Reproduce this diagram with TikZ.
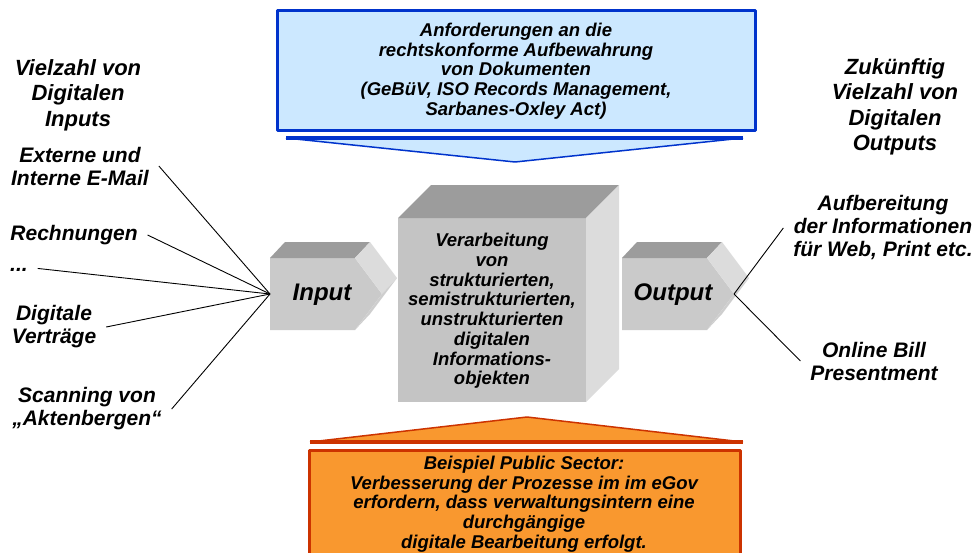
\documentclass[tikz,border=0pt]{standalone}
\usepackage{fontspec}
\setmainfont{Liberation Sans}
\definecolor{blueFill}{HTML}{CCE8FF}
\definecolor{blueLine}{HTML}{0033CC}
\definecolor{orangeFill}{HTML}{F9982F}
\definecolor{orangeLine}{HTML}{CC3300}
\definecolor{topGray}{HTML}{9C9C9C}
\definecolor{frontGray}{HTML}{C4C4C4}
\definecolor{sideGray}{HTML}{DCDCDC}
\begin{document}
\begin{tikzpicture}[x=1pt, y=-1pt, line join=round,
		head/.style={font=\bfseries\itshape\fontsize{22}{25.5}\selectfont, align=center, inner sep=0pt},
		lbl/.style={font=\bfseries\itshape\fontsize{21}{23}\selectfont, align=center, inner sep=0pt, outer xsep=10pt, outer ysep=0pt},
		boxtxt/.style={font=\bfseries\itshape\fontsize{18.5}{19.7}\selectfont, align=center, inner sep=0pt},
		blocktxt/.style={font=\bfseries\itshape\fontsize{24}{28}\selectfont, inner sep=0pt},
		wire/.style={line width=0.9pt}]
	\useasboundingbox (0,0) rectangle (980,552);
	% requirements box and arrow
	\draw[blueLine, line width=3pt, fill=blueFill] (277,10) rectangle (755,130);
	\node[boxtxt] (req) at (516,71) {Anforderungen an die\\rechtskonforme Aufbewahrung\\von Dokumenten\\(GeBüV, ISO Records Management,\\Sarbanes-Oxley Act)};
	\fill[blueFill] (286,138) -- (743,138) -- (515,162) -- cycle;
	\draw[blueLine, line width=1.5pt] (286,138) -- (515,162) -- (743,138);
	\draw[blueLine, line width=3.5pt] (286,138) -- (743,138);
	% public sector arrow and box
	\fill[orangeFill] (310,442) -- (527,417) -- (743,442) -- cycle;
	\draw[orangeLine, line width=1.5pt] (310,442) -- (527,417) -- (743,442);
	\draw[orangeLine, line width=3.5pt] (310,442) -- (743,442);
	\draw[orangeLine, line width=3pt, fill=orangeFill] (309,450) rectangle (740,558);
	\node[boxtxt] (pub) at (524,504) {Beispiel Public Sector:\\Verbesserung der Prozesse im im eGov\\erfordern, dass verwaltungsintern eine\\durchgängige\\digitale Bearbeitung erfolgt.};
	% processing cube
	\fill[frontGray] (398,218) rectangle (586,402);
	\fill[topGray] (398,218) -- (431,185) -- (619,185) -- (586,218) -- cycle;
	\fill[sideGray] (586,218) -- (619,185) -- (619,369) -- (586,402) -- cycle;
	\node[boxtxt] (proc) at (492,311) {Verarbeitung\\von\\strukturierten,\\semistrukturierten,\\unstrukturierten\\digitalen\\Informations-\\objekten};
	% input and output blocks
	\foreach \dx in {0,352} {
		\fill[frontGray!90!white] (270+\dx,258) -- (355+\dx,258) -- (382+\dx,294) -- (355+\dx,330) -- (270+\dx,330) -- cycle;
		\fill[topGray] (270+\dx,258) -- (285+\dx,242) -- (370+\dx,242) -- (355+\dx,258) -- cycle;
		\fill[sideGray] (355+\dx,258) -- (370+\dx,242) -- (397+\dx,278) -- (382+\dx,294) -- cycle;
		\fill[sideGray!85!gray] (382+\dx,294) -- (397+\dx,278) -- (370+\dx,314) -- (355+\dx,330) -- cycle;
	}
	\node[blocktxt] (in) at (322,295) {Input};
	\node[blocktxt] (out) at (673,295) {Output};
	\coordinate (inLeft) at (270,294);
	\coordinate (outTip) at (734,294);
	% inputs
	\node[head] (inHead) at (78,95) {Vielzahl von\\Digitalen\\Inputs};
	\node[lbl] (mail) at (80,166) {Externe und\\Interne E-Mail};
	\node[lbl] (bill) at (74,235) {Rechnungen};
	\node[lbl] (dots) at (19,270) {...};
	\node[lbl] (contract) at (54,327) {Digitale\\Verträge};
	\node[lbl] (scan) at (87,409) {Scanning von\\„Aktenbergen“};
	\foreach \src in {mail,bill,contract,scan}
		\draw[wire] (\src.east) -- (inLeft);
	\draw[wire] (dots.north east) -- (inLeft);
	% outputs
	\node[head] (outHead) at (895,107) {Zukünftig\\Vielzahl von\\Digitalen\\Outputs};
	\node[lbl] (web) at (883,228) {Aufbereitung\\der Informationen\\für Web, Print etc.};
	\node[lbl] (online) at (874,361) {Online Bill\\Presentment};
	\draw[wire] (outTip) -- (web.west);
	\draw[wire] (outTip) -- (online.west);
\end{tikzpicture}
\end{document}
